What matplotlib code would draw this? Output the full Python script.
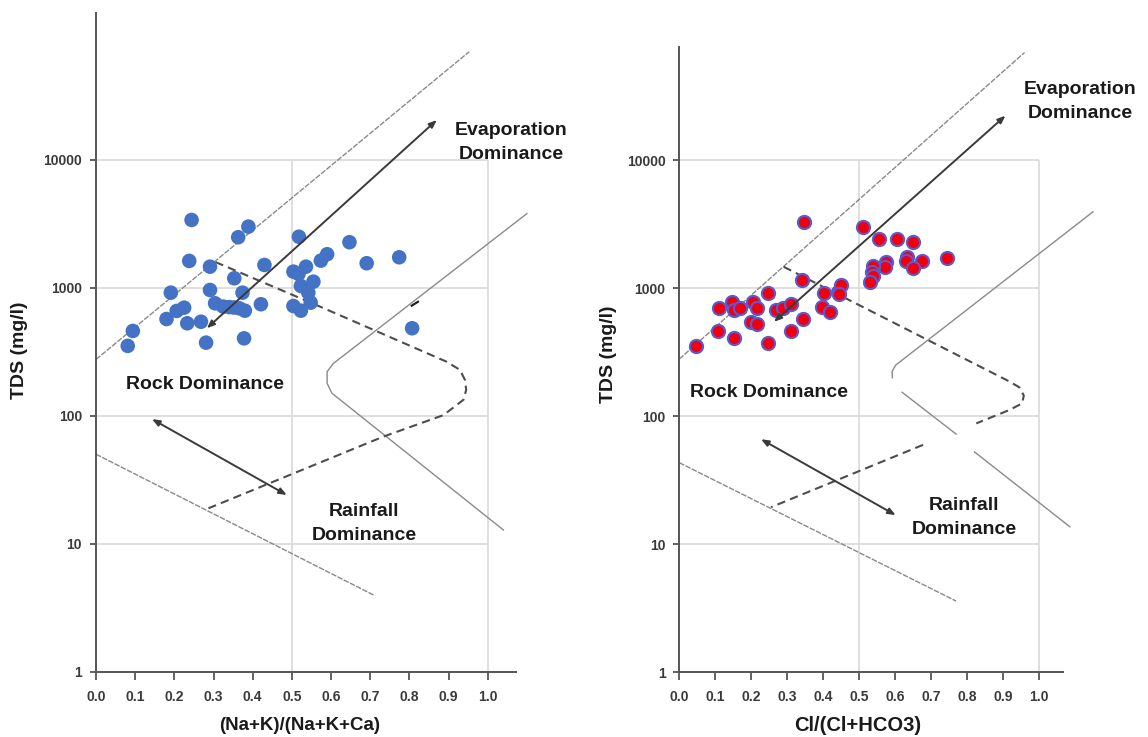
import numpy as np
import matplotlib
matplotlib.use("Agg")
import matplotlib.pyplot as plt

plt.rcParams['font.family'] = ['Liberation Sans', 'DejaVu Sans']
plt.rcParams['font.weight'] = 'bold'

# ---------------- data: left panel (Na+K)/(Na+K+Ca) ----------------
left_x = [0.081, 0.094, 0.180, 0.191, 0.206, 0.225, 0.233, 0.238, 0.244, 0.268,
          0.281, 0.291, 0.291, 0.304, 0.325, 0.340, 0.352, 0.366, 0.380, 0.353,
          0.363, 0.389, 0.374, 0.378, 0.421, 0.430, 0.518, 0.504, 0.536, 0.517,
          0.555, 0.523, 0.542, 0.548, 0.504, 0.523, 0.574, 0.590, 0.647, 0.691,
          0.774, 0.807]
left_tds = [351, 459, 569, 914, 658, 698, 527, 1618, 3380, 542,
            372, 1459, 959, 755, 711, 705, 700, 690, 661, 1184,
            2478, 2998, 914, 402, 742, 1504, 2500, 1334, 1459, 1280,
            1114, 1031, 914, 764, 719, 661, 1626, 1824, 2265, 1552,
            1728, 482]

# ---------------- data: right panel Cl/(Cl+HCO3) ----------------
right_x = [0.046, 0.107, 0.111, 0.146, 0.153, 0.169, 0.152, 0.204, 0.215, 0.198,
           0.217, 0.246, 0.246, 0.269, 0.289, 0.309, 0.310, 0.340, 0.346, 0.344,
           0.397, 0.419, 0.402, 0.442, 0.449, 0.444, 0.511, 0.556, 0.606, 0.650,
           0.743, 0.675, 0.633, 0.629, 0.650, 0.574, 0.571, 0.539, 0.534, 0.539,
           0.530]
right_tds = [353, 466, 698, 785, 676, 705, 411, 785, 698, 548,
             526, 914, 376, 676, 698, 750, 464, 1161, 3280, 576,
             718, 650, 914, 940, 1061, 898, 2998, 2427, 2427, 2284,
             1734, 1634, 1766, 1634, 1449, 1592, 1474, 1502, 1349, 1248,
             1114]

# ---------------- boundary curves (Gibbs envelope) ----------------
L_upper_x, L_upper_y = [0.0, 0.953], [275, 69800]
L_lower_x, L_lower_y = [0.0, 0.710], [50, 3.95]
L_dash_x = [0.305, 0.572, 0.895, 0.929, 0.942, 0.945, 0.938, 0.887, 0.733, 0.287]
L_dash_y = [1585, 711, 264, 228, 190, 159, 133, 101, 68.5, 18.9]
L_curve_x = [1.100, 0.606, 0.590, 0.590, 0.602, 1.040]
L_curve_y = [3790, 256, 221, 179, 150, 12.8]
L_mark_x, L_mark_y = [0.806, 0.822], [724, 776]
L_evap = ((0.283, 482), (0.870, 20400))
L_rain = ((0.143, 94), (0.487, 24))

R_upper_x, R_upper_y = [0.0, 0.959], [280, 69500]
R_lower_x, R_lower_y = [0.0, 0.769], [43.4, 3.6]
R_dash_x = [0.290, 0.917, 0.945, 0.957, 0.952, 0.917, 0.825, np.nan, 0.677, 0.255]
R_dash_y = [1472, 187, 168, 145, 126, 112, 88, np.nan, 59.8, 19.5]
R_curve_x = [1.149, 0.601, 0.591, 0.592, np.nan, 0.619, 0.769, np.nan, 0.820, 1.085]
R_curve_y = [3955, 251, 224, 200, np.nan, 154, 72.6, np.nan, 52.7, 13.7]
R_evap = ((0.263, 547), (0.906, 22300))
R_rain = ((0.227, 66.2), (0.601, 16.9))

x_ticks = [0.0, 0.1, 0.2, 0.3, 0.4, 0.5, 0.6, 0.7, 0.8, 0.9, 1.0]
x_ticklabels = ['0.0', '0.1', '0.2', '0.3', '0.4', '0.5', '0.6', '0.7', '0.8', '0.9', '1.0']
y_ticks = [1, 10, 100, 1000, 10000]
y_ticklabels = ['1', '10', '100', '1000', '10000']
grid_h = [10, 100, 1000, 10000]
grid_v = [0.5, 1.0]

W, H = 1148, 737
fig = plt.figure(figsize=(W / 100, H / 100), dpi=100)

def px_axes(left, top, bottom, width):
    return fig.add_axes([left / W, (H - bottom) / H, width / W, (bottom - top) / H])

axL = px_axes(96, 12.7, 671.7, 454.4)
axR = px_axes(679.3, 47, 672.3, 417.6)

GRAY_LINE = '#8a8a8a'
DASH = '#4d4d4d'
ARROW = '#3a3a3a'
TXT = '#1a1a1a'

def style(ax, ytop, xend):
    ax.set_yscale('log')
    ax.set_xlim(0, 1.16)
    ax.set_ylim(1, ytop)
    for s in ['top', 'right']:
        ax.spines[s].set_visible(False)
    for s in ['left', 'bottom']:
        ax.spines[s].set_color('#555555')
        ax.spines[s].set_linewidth(1.4)
    ax.spines['bottom'].set_bounds(0, xend)
    ax.set_xticks(x_ticks)
    ax.set_xticklabels(x_ticklabels)
    ax.set_yticks(y_ticks)
    ax.set_yticklabels(y_ticklabels)
    ax.yaxis.set_minor_locator(matplotlib.ticker.NullLocator())
    ax.tick_params(axis='x', length=6, width=1.3, color='#555555', pad=7,
                   labelsize=10, labelcolor='#3a3a3a')
    ax.tick_params(axis='y', length=4, width=1.3, color='#555555', pad=6,
                   labelsize=10, labelcolor='#3a3a3a')
    for lab in ax.get_xticklabels() + ax.get_yticklabels():
        lab.set_fontweight('bold')
    ax.hlines(grid_h, 0, 1.0, colors='#d9d9d9', lw=1.2, zorder=0)
    ax.vlines(grid_v, 1, 10000, colors='#d9d9d9', lw=1.2, zorder=0)

def arrow(ax, a, b):
    ax.annotate('', xy=b, xytext=a,
                arrowprops=dict(arrowstyle='<|-|>,head_length=0.45,head_width=0.18',
                                color=ARROW, lw=1.4, shrinkA=0, shrinkB=0), zorder=4)

style(axL, 10 ** 5.148, 1.073)
style(axR, 10 ** 4.885, 1.067)

# left panel
axL.plot(L_upper_x, L_upper_y, color=GRAY_LINE, lw=1.0, dashes=(4, 1), zorder=2)
axL.plot(L_lower_x, L_lower_y, color=GRAY_LINE, lw=1.0, dashes=(4, 1), zorder=2)
axL.plot(L_curve_x, L_curve_y, color=GRAY_LINE, lw=1.0, zorder=2, clip_on=False)
axL.plot(L_mark_x, L_mark_y, color='#222222', lw=1.6, zorder=2)
axL.plot(L_dash_x, L_dash_y, color=DASH, lw=1.5, dashes=(4, 2.5), zorder=2)
arrow(axL, *L_evap)
arrow(axL, *L_rain)
axL.scatter(left_x, left_tds, s=110, color='#4472C4', edgecolors='none', zorder=3)

axL.text(1.059, 10 ** 4.134, 'Evaporation\nDominance', ha='center', va='center',
         fontsize=14, fontweight='bold', color=TXT, linespacing=1.5)
axL.text(0.278, 10 ** 2.24, 'Rock Dominance', ha='center', va='center',
         fontsize=14, fontweight='bold', color=TXT)
axL.text(0.685, 10 ** 1.159, 'Rainfall\nDominance', ha='center', va='center',
         fontsize=14, fontweight='bold', color=TXT, linespacing=1.5)

axL.set_ylabel('TDS (mg/l)', fontsize=14, fontweight='bold', color=TXT)
axL.yaxis.set_label_coords(-0.150, 0.488)
axL.set_xlabel('(Na+K)/(Na+K+Ca)', fontsize=13.5, fontweight='bold', color=TXT)
axL.xaxis.set_label_coords(0.449, -0.068)

# right panel
axR.plot(R_upper_x, R_upper_y, color=GRAY_LINE, lw=1.0, dashes=(4, 1), zorder=2)
axR.plot(R_lower_x, R_lower_y, color=GRAY_LINE, lw=1.0, dashes=(4, 1), zorder=2)
axR.plot(R_curve_x, R_curve_y, color=GRAY_LINE, lw=1.0, zorder=2, clip_on=False)
axR.plot(R_dash_x, R_dash_y, color=DASH, lw=1.5, dashes=(4, 2.5), zorder=2)
arrow(axR, *R_evap)
arrow(axR, *R_rain)
axR.scatter(right_x, right_tds, s=90, color='#ee0011', edgecolors='#5b5bd0',
            linewidths=1.5, zorder=3)

axR.text(1.113, 10 ** 4.459, 'Evaporation\nDominance', ha='center', va='center',
         fontsize=14, fontweight='bold', color=TXT, linespacing=1.5)
axR.text(0.249, 10 ** 2.182, 'Rock Dominance', ha='center', va='center',
         fontsize=14, fontweight='bold', color=TXT)
axR.text(0.791, 10 ** 1.209, 'Rainfall\nDominance', ha='center', va='center',
         fontsize=14, fontweight='bold', color=TXT, linespacing=1.5)

axR.set_ylabel('TDS (mg/l)', fontsize=14, fontweight='bold', color=TXT)
axR.yaxis.set_label_coords(-0.149, 0.509)
axR.set_xlabel('Cl/(Cl+HCO3)', fontsize=14.5, fontweight='bold', color=TXT)
axR.xaxis.set_label_coords(0.4267, -0.070)

fig.savefig('out.png', dpi=100)
